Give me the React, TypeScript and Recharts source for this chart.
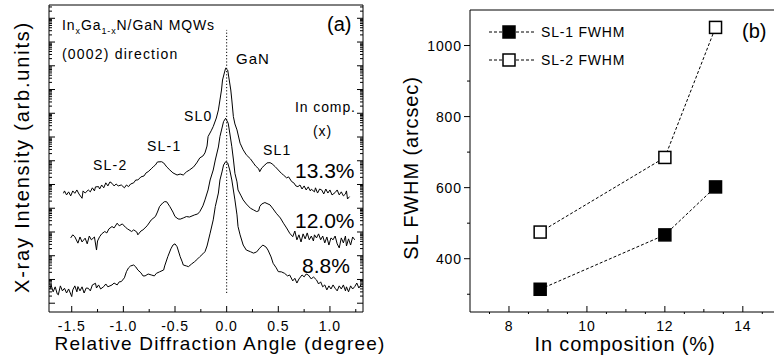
import { LineChart, Line, XAxis, YAxis, ReferenceLine } from 'recharts'

const FONT = '"Liberation Sans", Arial, Helvetica, sans-serif'

// (a) XRD omega-2theta scans: [relative angle (deg), log10 intensity]
const scan133: [number, number][] = [
  [-1.58, 4.63], [-1.57, 4.73], [-1.55, 4.56], [-1.53, 4.69], [-1.51, 4.52], [-1.49, 4.73],
  [-1.47, 4.63], [-1.45, 4.77], [-1.43, 4.6], [-1.4, 4.42], [-1.39, 4.73], [-1.37, 4.64],
  [-1.34, 4.77], [-1.32, 4.69], [-1.3, 4.86], [-1.28, 4.73], [-1.27, 4.9], [-1.24, 4.91],
  [-1.23, 4.81], [-1.21, 4.98], [-1.19, 4.86], [-1.17, 5.07], [-1.15, 4.94], [-1.13, 5.11],
  [-1.11, 5.05], [-1.09, 4.94], [-1.07, 5.02], [-1.05, 4.94], [-1.02, 4.98], [-0.99, 4.86],
  [-0.97, 4.98], [-0.95, 4.91], [-0.93, 5.02], [-0.9, 5.07], [-0.88, 5.19], [-0.86, 5.19],
  [-0.83, 5.32], [-0.8, 5.36], [-0.78, 5.49], [-0.76, 5.54], [-0.73, 5.66], [-0.71, 5.75],
  [-0.69, 5.82], [-0.67, 5.95], [-0.63, 5.96], [-0.61, 5.91], [-0.58, 5.74], [-0.55, 5.61],
  [-0.52, 5.49], [-0.48, 5.4], [-0.45, 5.44], [-0.42, 5.4], [-0.39, 5.53], [-0.36, 5.61],
  [-0.32, 5.74], [-0.29, 5.91], [-0.26, 6.12], [-0.23, 6.2], [-0.21, 6.33], [-0.19, 6.62],
  [-0.18, 7.02], [-0.15, 7.26], [-0.13, 7.44], [-0.1, 7.8], [-0.08, 8.14], [-0.065, 8.56],
  [-0.05, 8.98], [-0.04, 9.4], [-0.02, 9.74], [-0.01, 9.9], [0.01, 9.82], [0.025, 9.4],
  [0.04, 8.98], [0.05, 8.56], [0.065, 7.86], [0.08, 7.55], [0.1, 7.3], [0.13, 6.74],
  [0.16, 6.46], [0.19, 6.25], [0.23, 6.08], [0.26, 5.9], [0.28, 5.78], [0.31, 5.66],
  [0.32, 5.54], [0.34, 5.7], [0.37, 5.82], [0.39, 5.91], [0.42, 5.92], [0.44, 5.87],
  [0.47, 5.75], [0.5, 5.61], [0.53, 5.47], [0.55, 5.4], [0.58, 5.28], [0.6, 5.32],
  [0.63, 5.12], [0.65, 5.07], [0.67, 4.94], [0.69, 4.91], [0.71, 4.98], [0.73, 4.81],
  [0.75, 4.94], [0.77, 4.77], [0.79, 4.9], [0.81, 4.73], [0.82, 4.8], [0.85, 4.69],
  [0.86, 4.86], [0.88, 4.64], [0.9, 4.81], [0.92, 4.77], [0.94, 4.6], [0.96, 4.81],
  [0.98, 4.64], [1.0, 4.77], [1.02, 4.56], [1.05, 4.66], [1.07, 4.77], [1.09, 4.56],
  [1.11, 4.69], [1.13, 4.52], [1.15, 4.6], [1.16, 4.73], [1.17, 4.39], [1.19, 4.49],
]

const scan120: [number, number][] = [
  [-1.51, 2.75], [-1.49, 2.88], [-1.47, 2.8], [-1.45, 2.62], [-1.44, 2.53], [-1.42, 2.79],
  [-1.4, 2.58], [-1.37, 2.74], [-1.35, 2.5], [-1.33, 2.83], [-1.31, 2.67], [-1.28, 2.79],
  [-1.26, 2.24], [-1.25, 2.62], [-1.23, 2.8], [-1.21, 2.92], [-1.18, 3.02], [-1.16, 2.96],
  [-1.14, 3.13], [-1.11, 3.23], [-1.09, 3.17], [-1.06, 3.37], [-1.04, 3.26], [-1.01, 3.34],
  [-0.98, 3.2], [-0.96, 3.13], [-0.92, 3.02], [-0.9, 3.09], [-0.87, 3.0], [-0.86, 2.88],
  [-0.83, 3.04], [-0.81, 3.09], [-0.77, 3.26], [-0.73, 3.51], [-0.69, 3.65], [-0.67, 3.84],
  [-0.65, 4.07], [-0.62, 4.22], [-0.6, 4.28], [-0.58, 4.27], [-0.55, 4.07], [-0.52, 3.84],
  [-0.5, 3.65], [-0.47, 3.55], [-0.45, 3.54], [-0.42, 3.59], [-0.39, 3.65], [-0.36, 3.63],
  [-0.31, 3.72], [-0.28, 3.76], [-0.26, 3.86], [-0.23, 4.1], [-0.21, 4.35], [-0.18, 4.77],
  [-0.16, 5.19], [-0.13, 5.61], [-0.11, 6.03], [-0.08, 6.58], [-0.065, 7.02], [-0.045, 7.38],
  [-0.03, 7.65], [-0.01, 7.79], [0.015, 7.58], [0.03, 7.17], [0.05, 6.59], [0.066, 6.03],
  [0.08, 5.47], [0.1, 5.11], [0.11, 4.77], [0.14, 4.52], [0.16, 4.35], [0.19, 4.18],
  [0.23, 4.0], [0.26, 3.93], [0.29, 3.86], [0.31, 3.89], [0.32, 4.07], [0.34, 4.18],
  [0.37, 4.24], [0.4, 4.18], [0.42, 4.14], [0.45, 3.97], [0.48, 3.79], [0.52, 3.59],
  [0.55, 3.37], [0.58, 3.17], [0.61, 2.95], [0.64, 2.8], [0.66, 3.04], [0.68, 2.67],
  [0.7, 2.88], [0.72, 2.58], [0.74, 2.92], [0.76, 2.71], [0.78, 2.96], [0.8, 2.67],
  [0.82, 2.83], [0.84, 2.62], [0.85, 2.88], [0.87, 2.75], [0.89, 2.92], [0.91, 2.67],
  [0.93, 2.83], [0.95, 2.54], [0.97, 2.79], [0.99, 2.45], [1.01, 2.75], [1.03, 2.67],
  [1.05, 2.83], [1.07, 2.5], [1.09, 2.33], [1.11, 2.75], [1.13, 2.54], [1.15, 2.83],
  [1.16, 2.41], [1.18, 2.71], [1.2, 2.45], [1.22, 2.79], [1.24, 2.67],
]

const scan88: [number, number][] = [
  [-1.71, 0.6], [-1.7, 0.77], [-1.68, 0.48], [-1.66, 0.69], [-1.64, 0.39], [-1.63, 0.35],
  [-1.61, 0.73], [-1.59, 0.52], [-1.57, 0.63], [-1.55, 0.43], [-1.53, 0.6], [-1.5, 0.28],
  [-1.49, 0.56], [-1.47, 0.73], [-1.45, 0.48], [-1.44, 0.7], [-1.42, 0.52], [-1.4, 0.69],
  [-1.38, 0.43], [-1.36, 0.64], [-1.34, 0.63], [-1.32, 0.52], [-1.3, 0.77], [-1.27, 0.84],
  [-1.26, 0.64], [-1.24, 0.77], [-1.22, 0.6], [-1.19, 0.7], [-1.17, 0.81], [-1.15, 0.69],
  [-1.11, 0.77], [-1.09, 0.85], [-1.06, 0.77], [-1.04, 0.9], [-1.02, 0.91], [-0.99, 1.07],
  [-0.97, 1.33], [-0.95, 1.49], [-0.93, 1.57], [-0.9, 1.61], [-0.88, 1.53], [-0.86, 1.4],
  [-0.83, 1.28], [-0.81, 1.15], [-0.79, 1.15], [-0.76, 1.23], [-0.73, 1.19], [-0.7, 1.15],
  [-0.68, 1.26], [-0.65, 1.32], [-0.61, 1.4], [-0.6, 1.57], [-0.57, 1.96], [-0.54, 2.29],
  [-0.52, 2.45], [-0.5, 2.5], [-0.48, 2.38], [-0.47, 2.24], [-0.45, 1.96], [-0.43, 1.74],
  [-0.42, 1.61], [-0.39, 1.57], [-0.37, 1.54], [-0.34, 1.65], [-0.31, 1.75], [-0.28, 1.87],
  [-0.26, 1.96], [-0.23, 2.08], [-0.21, 2.17], [-0.19, 2.41], [-0.16, 2.95], [-0.13, 3.51],
  [-0.11, 4.07], [-0.08, 4.64], [-0.065, 5.19], [-0.045, 5.53], [-0.03, 5.82], [-0.01, 5.96],
  [0.01, 5.91], [0.03, 5.61], [0.05, 5.19], [0.08, 4.35], [0.1, 3.72], [0.11, 3.23],
  [0.13, 2.88], [0.16, 2.45], [0.19, 2.24], [0.23, 2.17], [0.26, 2.11], [0.29, 2.16],
  [0.32, 2.32], [0.35, 2.45], [0.38, 2.37], [0.4, 2.24], [0.43, 1.95], [0.45, 1.68],
  [0.48, 1.49], [0.5, 1.33], [0.53, 1.32], [0.56, 1.26], [0.59, 1.15], [0.61, 1.19],
  [0.64, 0.94], [0.66, 1.05], [0.68, 0.85], [0.7, 1.02], [0.73, 1.19], [0.75, 1.11],
  [0.77, 1.23], [0.79, 1.19], [0.82, 1.02], [0.84, 1.11], [0.87, 0.98], [0.89, 0.81],
  [0.91, 0.9], [0.93, 0.69], [0.95, 0.77], [0.97, 0.56], [0.99, 0.73], [1.01, 0.6],
  [1.03, 0.77], [1.05, 0.63], [1.07, 0.52], [1.09, 0.73], [1.11, 0.6], [1.13, 0.77],
  [1.15, 0.52], [1.16, 0.69], [1.18, 0.48], [1.2, 0.73], [1.22, 0.6], [1.24, 0.7],
  [1.26, 0.85], [1.28, 0.64], [1.3, 0.77],
]

const scanLabels = ['13.3%', '12.0%', '8.8%']
const peakLabels = ['SL-2', 'SL-1', 'SL0', 'GaN', 'SL1']

const angleTicks = [-1.5, -1.0, -0.5, 0, 0.5, 1.0]
const angleMinor = [-1.25, -0.75, -0.25, 0.25, 0.75, 1.25]
const decades = [0, 1, 2, 3, 4, 5, 6, 7, 8, 9, 10, 11, 12]
const logMinor = decades.flatMap((d) => [2, 3, 4, 5, 6, 7, 8, 9].map((m) => d + Math.log10(m))).filter((v) => v < 12.56)

// (b) satellite peak FWHM vs In composition
const inComp = [8.8, 12.0, 13.3]
const sl1Fwhm = [314, 467, 602]
const sl2Fwhm = [475, 685, 1051]
const fwhmNames = ['SL-1 FWHM', 'SL-2 FWHM']

const compTicks = [8, 10, 12, 14]
const compMid = [9, 11, 13]
const compHalf = [7.5, 8.5, 9.5, 10.5, 11.5, 12.5, 13.5, 14.5]
const fwhmTicks = [400, 600, 800, 1000]
const fwhmMinor = [300, 500, 700, 900]

const toPts = (arr: [number, number][]) => arr.map(([x, y]) => ({ x, y }))
const fwhmData = inComp.map((c, i) => ({ c, sl1: sl1Fwhm[i], sl2: sl2Fwhm[i] }))

const has = (list: number[], v: number) => list.some((m) => Math.abs(m - v) < 1e-9)

// spec returns the tick line offset and an optional label for each value
type Spec = (v: number) => { dx: number; dy: number; label?: string }

function makeTick(spec: Spec, side: 'bottom' | 'left' = 'bottom') {
  return (props: any) => {
    const { x, y, payload } = props
    const { dx, dy, label } = spec(payload.value)
    return (
      <g>
        <line x1={x} y1={y} x2={x + dx} y2={y + dy} stroke="#000" strokeWidth={1} />
        {label !== undefined && (
          <text
            x={side === 'left' ? x - 8 : x}
            y={side === 'left' ? y + 5 : y + 19}
            textAnchor={side === 'left' ? 'end' : 'middle'}
            fontSize={14}
            fontFamily={FONT}
            fill="#000"
            style={{ letterSpacing: '0.9px' }}
          >
            {label}
          </text>
        )}
      </g>
    )
  }
}

const SquareDot = (filled: boolean) => (p: any) => (
  <rect
    key={p.index}
    x={p.cx - 6}
    y={p.cy - 6}
    width={12}
    height={12}
    fill={filled ? '#000' : '#fff'}
    stroke="#000"
    strokeWidth={1.5}
  />
)

const txt = (size: number, spacing = 0) => ({
  fontFamily: FONT,
  fontSize: size,
  fill: '#000',
  style: { letterSpacing: `${spacing}px` },
})

const axisCommon = {
  type: 'number' as const,
  allowDataOverflow: true,
  tickSize: 0,
  tickMargin: 0,
  tickLine: false,
  interval: 0 as const,
  axisLine: { stroke: '#000', strokeWidth: 1 },
}

function ScanPanel() {
  return (
    <LineChart width={390} height={362} margin={{ top: 4, right: 26, bottom: 49, left: 48 }}>
      <XAxis
        {...axisCommon}
        xAxisId="b"
        dataKey="x"
        domain={[-1.72, 1.32]}
        height={1}
        ticks={[...angleTicks, ...angleMinor]}
        tick={makeTick((v) =>
          has(angleTicks, v) ? { dx: 0, dy: -6, label: v.toFixed(1) } : { dx: 0, dy: -3 },
        )}
      />
      <XAxis
        {...axisCommon}
        xAxisId="t"
        orientation="top"
        domain={[-1.72, 1.32]}
        height={1}
        ticks={[...angleTicks, ...angleMinor]}
        tick={makeTick(() => ({ dx: 0, dy: 3 }))}
      />
      <YAxis
        {...axisCommon}
        yAxisId="l"
        domain={[-0.37, 12.56]}
        width={1}
        ticks={[...decades, ...logMinor]}
        tick={makeTick((v) => ({ dx: has(decades, v) ? 6 : 3, dy: 0 }), 'left')}
      />
      <YAxis
        {...axisCommon}
        yAxisId="r"
        orientation="right"
        domain={[-0.37, 12.56]}
        width={1}
        ticks={[...decades, ...logMinor]}
        tick={makeTick((v) => ({ dx: has(decades, v) ? -6 : -3, dy: 0 }))}
      />
      <ReferenceLine
        xAxisId="b"
        yAxisId="l"
        segment={[{ x: 0, y: 0.43 }, { x: 0, y: 11.51 }]}
        stroke="#000"
        strokeDasharray="1.2 2"
        strokeWidth={1}
      />
      {[scan133, scan120, scan88].map((s, i) => (
        <Line
          key={scanLabels[i]}
          xAxisId="b"
          yAxisId="l"
          data={toPts(s)}
          dataKey="y"
          type="linear"
          stroke="#000"
          strokeWidth={1}
          dot={false}
          isAnimationActive={false}
        />
      ))}
      <text x={62} y={30} {...txt(14, 0.9)}>
        In<tspan fontSize={9} dy={4}>x</tspan>
        <tspan dy={-4}>Ga</tspan>
        <tspan fontSize={9} dy={4}>1-x</tspan>
        <tspan dy={-4}>N/GaN MQWs</tspan>
      </text>
      <text x={62} y={59} {...txt(14, 1.2)}>(0002) direction</text>
      <text x={327} y={31} {...txt(20)}>(a)</text>
      <text x={93} y={170} {...txt(14, 1.2)}>{peakLabels[0]}</text>
      <text x={147} y={151} {...txt(14, 1.2)}>{peakLabels[1]}</text>
      <text x={184} y={121} {...txt(14, 1.2)}>{peakLabels[2]}</text>
      <text x={236} y={64} {...txt(15, 1)}>{peakLabels[3]}</text>
      <text x={263} y={155} {...txt(14, 1.2)}>{peakLabels[4]}</text>
      <text x={295} y={112} {...txt(14, 0.9)}>In comp.</text>
      <text x={313} y={136} {...txt(14, 0.9)}>(x)</text>
      <text x={295} y={178} {...txt(21)}>{scanLabels[0]}</text>
      <text x={295} y={228} {...txt(21)}>{scanLabels[1]}</text>
      <text x={302} y={273} {...txt(21)}>{scanLabels[2]}</text>
      <text x={220} y={350} textAnchor="middle" {...txt(19, 1.2)}>
        Relative Diffraction Angle (degree)
      </text>
      <text x={29} y={157} textAnchor="middle" transform="rotate(-90 29 157)" {...txt(20, 1.8)}>
        X-ray Intensity (arb.units)
      </text>
    </LineChart>
  )
}

function FwhmPanel() {
  const compAll = [...compTicks, ...compMid, ...compHalf]
  return (
    <LineChart width={384} height={362} data={fwhmData} margin={{ top: 9, right: 0, bottom: 49, left: 79 }}>
      <XAxis
        {...axisCommon}
        xAxisId="b"
        dataKey="c"
        domain={[7, 14.8]}
        height={1}
        ticks={compAll}
        tick={makeTick((v) =>
          has(compTicks, v)
            ? { dx: 0, dy: -6, label: String(v) }
            : has(compMid, v)
              ? { dx: 0, dy: -3 }
              : { dx: 0, dy: 2 },
        )}
      />
      <XAxis
        {...axisCommon}
        xAxisId="t"
        orientation="top"
        domain={[7, 14.8]}
        height={1}
        ticks={compAll}
        tick={makeTick(() => ({ dx: 0, dy: -2 }))}
      />
      <YAxis
        {...axisCommon}
        domain={[250, 1100]}
        width={1}
        ticks={[...fwhmTicks, ...fwhmMinor]}
        tick={makeTick(
          (v) => (has(fwhmTicks, v) ? { dx: -6, dy: 0, label: String(v) } : { dx: -3, dy: 0 }),
          'left',
        )}
      />
      <Line
        xAxisId="b"
        dataKey="sl1"
        name={fwhmNames[0]}
        type="linear"
        stroke="#000"
        strokeWidth={1}
        strokeDasharray="3 2"
        dot={SquareDot(true)}
        isAnimationActive={false}
      />
      <Line
        xAxisId="b"
        dataKey="sl2"
        name={fwhmNames[1]}
        type="linear"
        stroke="#000"
        strokeWidth={1}
        strokeDasharray="3 2"
        dot={SquareDot(false)}
        isAnimationActive={false}
      />
      {fwhmNames.map((name, i) => {
        const cy = 32 + 28 * i
        return (
          <g key={name}>
            <line x1={99} x2={113} y1={cy} y2={cy} stroke="#000" strokeDasharray="3 2" />
            <rect x={113} y={cy - 6} width={12} height={12} fill={i === 0 ? '#000' : '#fff'} stroke="#000" strokeWidth={1.5} />
            <line x1={126} x2={145} y1={cy} y2={cy} stroke="#000" strokeDasharray="3 2" />
            <text x={151} y={cy + 5} {...txt(14, 0.8)}>{name}</text>
          </g>
        )
      })}
      <text x={352} y={38} {...txt(20)}>(b)</text>
      <text x={235} y={351} textAnchor="middle" {...txt(20, 0.85)}>In composition (%)</text>
      <text x={28} y={168} textAnchor="middle" transform="rotate(-90 28 168)" {...txt(20, 0.9)}>
        SL FWHM (arcsec)
      </text>
    </LineChart>
  )
}

export default function App() {
  return (
    <div style={{ position: 'absolute', left: 0, top: 0, width: 774, height: 362, background: '#fff', overflow: 'hidden' }}>
      <div style={{ position: 'absolute', left: 0, top: 0 }}>
        <ScanPanel />
      </div>
      <div style={{ position: 'absolute', left: 390, top: 0 }}>
        <FwhmPanel />
      </div>
    </div>
  )
}
